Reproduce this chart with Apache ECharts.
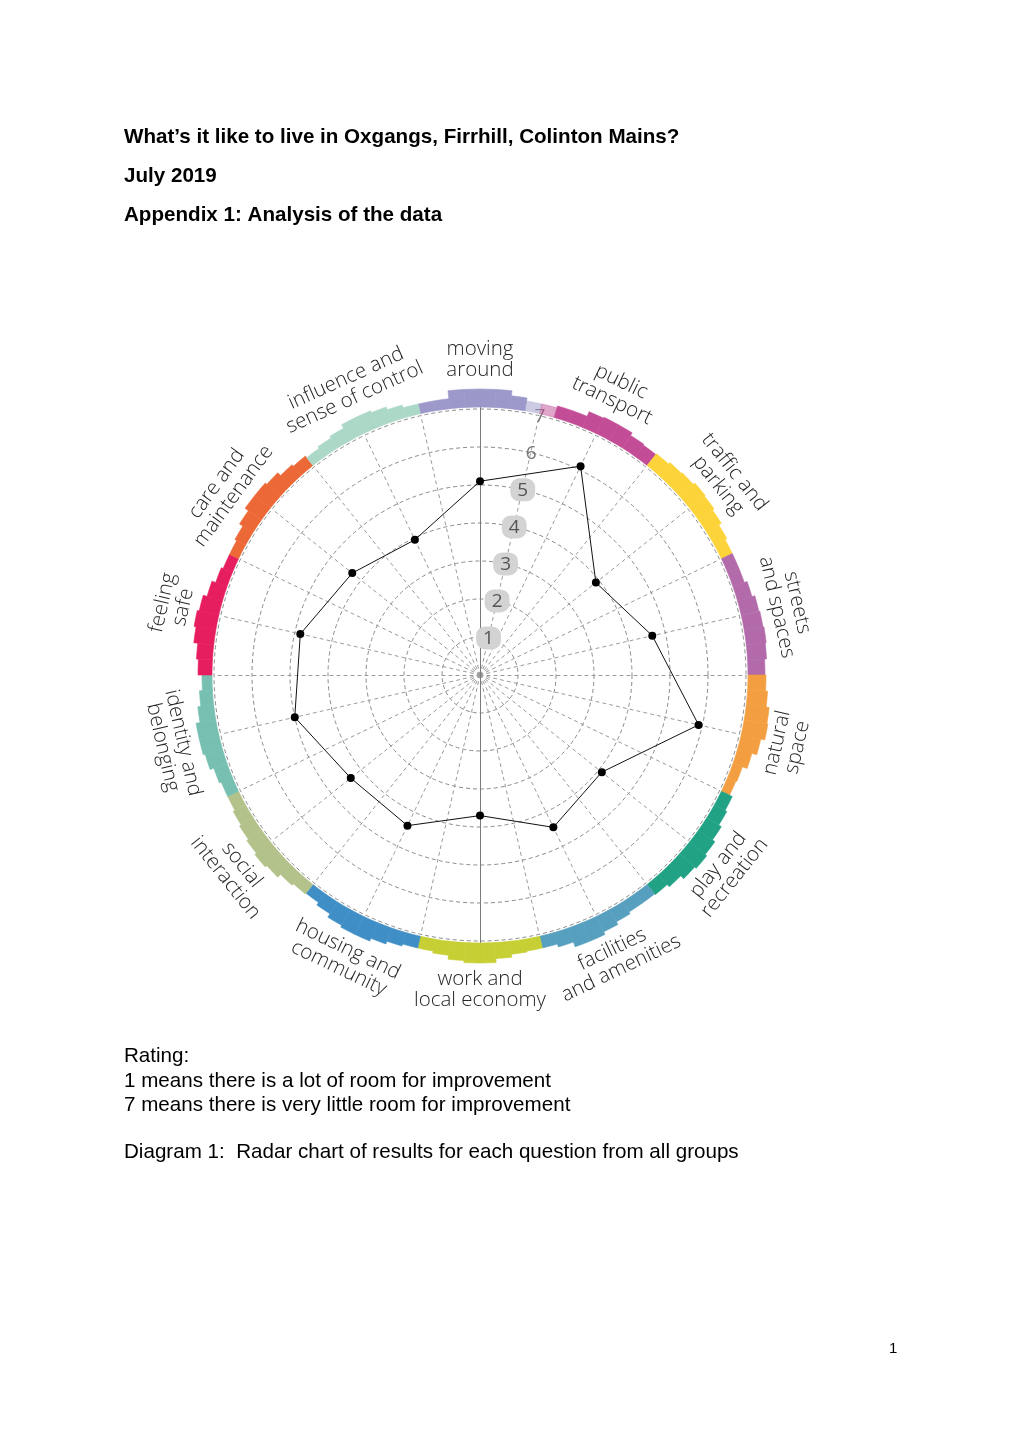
<!DOCTYPE html>
<html>
<head>
<meta charset="utf-8">
<script src="https://cdn.jsdelivr.net/npm/echarts@6/dist/echarts.min.js"></script>
<style>
html,body{margin:0;padding:0;background:#fff;}
#chart{width:1020px;height:1443px;}
</style>
</head>
<body>
<div id="chart"></div>
<script>
// ---------- data ----------
const categories = [
  'moving\naround', 'public\ntransport', 'traffic and\nparking', 'streets\nand spaces',
  'natural\nspace', 'play and\nrecreation', 'facilities\nand amenities', 'work and\nlocal economy',
  'housing and\ncommunity', 'social\ninteraction', 'identity and\nbelonging', 'feeling\nsafe',
  'care and\nmaintenance', 'influence and\nsense of control'
];
const scores = [5.1, 6.1, 3.9, 4.65, 5.9, 4.1, 4.45, 3.7, 4.4, 4.35, 5.0, 4.85, 4.3, 3.95];
const ringColors = [
  '#9c98c9', '#c24d96', '#fcd43a', '#b36aaa', '#f39f41', '#22a285', '#569fbe',
  '#c6cf33', '#3f8ec6', '#b3c28a', '#76bfb1', '#e61d5e', '#ec6836', '#acd8c8'
];
// ring band thickness (px) in eight steps across each category, clockwise
const ringThickness = [
  [10, 10, 18, 18, 18, 18, 13, 10],
  [10, 12, 12, 17, 18, 18, 15, 14],
  [15, 17, 18, 20, 19, 17, 14, 12],
  [12, 12, 15, 18, 19, 20, 19, 17],
  [18, 20, 23, 24, 20, 15, 10, 9],
  [12, 14, 17, 20, 22, 20, 16, 13],
  [12, 12, 14, 17, 20, 20, 15, 12],
  [12, 13, 16, 20, 20, 18, 14, 12],
  [12, 14, 17, 20, 20, 18, 14, 11],
  [12, 14, 18, 20, 18, 16, 14, 12],
  [12, 14, 18, 20, 20, 16, 13, 10],
  [14, 16, 20, 22, 20, 16, 12, 10],
  [10, 12, 16, 20, 20, 18, 14, 12],
  [10, 12, 14, 18, 18, 16, 13, 10]
];
// segments drawn paler (low counts)
const paleSegments = [[0, 7], [1, 0]];
const tickLabels = ['1', '2', '3', '4', '5', '6', '7'];
const boxedTicks = 5;
const maxScore = 7;
const docTitle = ['What\u2019s it like to live in Oxgangs, Firrhill, Colinton Mains?', 'July 2019', 'Appendix 1: Analysis of the data'];
const docNotes = ['Rating:', '1 means there is a lot of room for improvement', '7 means there is very little room for improvement'];
const caption = 'Diagram 1:  Radar chart of results for each question from all groups';
const pageNumber = '1';

// ---------- layout ----------
const CX = 480, CY = 675, R = 266;
const RING_IN = 268, RING_OUT = 302;
const LABEL_R = 315;
const N = categories.length;
const STEPS = ringThickness[0].length;
// small angular nudges (degrees) so neighbouring straight labels don't collide
const labelNudge = { 12: -2.6, 13: 1.4 };

// radar indicators go counter-clockwise in ECharts: reorder so the chart reads clockwise
const order = [0];
for (let i = N - 1; i >= 1; i--) order.push(i);
const indicators = order.map(i => ({ name: categories[i], min: 0, max: maxScore }));
const radarValues = order.map(i => scores[i]);

const spokes = [];
for (let i = 0; i < N * 2; i++) spokes.push({ name: '', min: 0, max: 1 });

const isPale = (c, s) => paleSegments.some(p => p[0] === c && p[1] === s);
const slots = [], ringData = [];
for (let c = 0; c < N; c++) {
  for (let s = 0; s < STEPS; s++) {
    slots.push(c + '-' + s);
    ringData.push({ value: ringThickness[c][s], itemStyle: {
      color: ringColors[c], borderColor: ringColors[c], borderWidth: 0.6,
      opacity: isPale(c, s) ? 0.5 : 1 } });
  }
}

const labelGraphics = categories.map((txt, i) => {
  const th = i * 360 / N + (labelNudge[i] || 0);
  const rad = th * Math.PI / 180;
  const x = CX + LABEL_R * Math.sin(rad);
  const y = CY - LABEL_R * Math.cos(rad);
  let rot = (th > 90 && th < 270) ? -(th - 180) : -th;
  return {
    type: 'text', x: x, y: y, rotation: rot * Math.PI / 180,
    style: {
      text: txt, fill: '#262626', fontSize: 20.5, fontFamily: 'Open Sans', fontWeight: 300,
      lineHeight: 21, align: 'center', verticalAlign: 'middle',
      textAlign: 'center', textVerticalAlign: 'middle'
    }
  };
});

const docFont = { fontFamily: 'Liberation Sans', fontSize: 20.6, color: '#000' };
const titles = [];
docTitle.forEach((t, i) => titles.push({ text: t, left: 124, top: 127 + i * 39, padding: 0,
  textStyle: Object.assign({}, docFont, { fontWeight: 'bold' }) }));
docNotes.forEach((t, i) => titles.push({ text: t, left: 124, top: 1046 + i * 24.5, padding: 0,
  textStyle: Object.assign({}, docFont, { fontWeight: 'normal' }) }));
titles.push({ text: caption, left: 124, top: 1142, padding: 0, textStyle: Object.assign({}, docFont, { fontWeight: 'normal' }) });
titles.push({ text: pageNumber, left: 889, top: 1341, padding: 0, textStyle: { fontFamily: 'Liberation Sans', fontSize: 15, color: '#000', fontWeight: 'normal' } });

const chart = echarts.init(document.getElementById('chart'), null, { renderer: 'canvas' });
chart.setOption({
  animation: false,
  backgroundColor: '#ffffff',
  title: titles,
  radar: [
    {
      center: [CX, CY], radius: R, startAngle: 90, shape: 'circle', splitNumber: 7,
      indicator: indicators,
      axisName: { show: false },
      axisLine: { show: false },
      axisTick: { show: false },
      axisLabel: { show: false },
      splitArea: { show: false },
      splitLine: { lineStyle: { color: '#8a8a8a', type: [4, 3], width: 1 } }
    },
    {
      center: [CX, CY], radius: R, startAngle: 90, shape: 'circle', splitNumber: 1,
      indicator: spokes,
      axisName: { show: false },
      axisLine: { lineStyle: { color: '#9a9a9a', type: [3, 4], width: 1 } },
      splitLine: { show: false }, splitArea: { show: false }
    },
    {
      center: [CX, CY], radius: RING_IN, startAngle: 90, shape: 'circle', splitNumber: 1,
      indicator: [{ name: '', min: 0, max: 1 }, { name: '', min: 0, max: 1 }],
      axisName: { show: false },
      axisLine: { lineStyle: { color: '#7a7a7a', width: 1 } },
      splitLine: { show: false }, splitArea: { show: false }
    }
  ],
  polar: [
    { center: [CX, CY], radius: [RING_IN, RING_OUT] },
    { center: [CX, CY], radius: R }
  ],
  angleAxis: [
    { polarIndex: 0, type: 'category', data: slots, startAngle: 90 + 180 / N, clockwise: true,
      boundaryGap: true, axisLine: { show: false }, axisTick: { show: false }, axisLabel: { show: false }, splitLine: { show: false } },
    { polarIndex: 1, type: 'value', min: 0, max: 360, startAngle: 77,
      axisLine: { show: false }, axisTick: { show: false }, axisLabel: { show: false }, splitLine: { show: false } }
  ],
  radiusAxis: [
    { polarIndex: 0, type: 'value', min: 0, max: RING_OUT - RING_IN,
      axisLine: { show: false }, axisTick: { show: false }, axisLabel: { show: false }, splitLine: { show: false } },
    { polarIndex: 1, type: 'value', min: 0, max: maxScore, interval: 1,
      axisLine: { show: false }, axisTick: { show: false }, splitLine: { show: false },
      axisLabel: {
        margin: 0, align: 'center', verticalAlign: 'middle',
        formatter: v => v === 0 ? '' : (v <= boxedTicks ? '{b|' + tickLabels[v - 1] + '}' : '{p|' + tickLabels[v - 1] + '}'),
        rich: {
          b: { fontFamily: 'Open Sans', fontSize: 19, color: '#555', backgroundColor: '#d3d3d3',
               borderRadius: 9, padding: [3, 7, 1, 7] },
          p: { fontFamily: 'Open Sans', fontSize: 19, color: '#777', padding: [3, 7, 1, 7] }
        }
      } }
  ],
  graphic: labelGraphics,
  series: [
    {
      type: 'bar', coordinateSystem: 'polar', polarIndex: 0,
      data: ringData, barCategoryGap: '0%', barGap: '0%', silent: true
    },
    {
      type: 'radar', radarIndex: 0,
      symbol: 'circle', symbolSize: 8,
      lineStyle: { color: '#111', width: 1 },
      itemStyle: { color: '#000' },
      data: [{ value: radarValues, name: 'All groups' }]
    }
  ]
});
</script>
</body>
</html>
